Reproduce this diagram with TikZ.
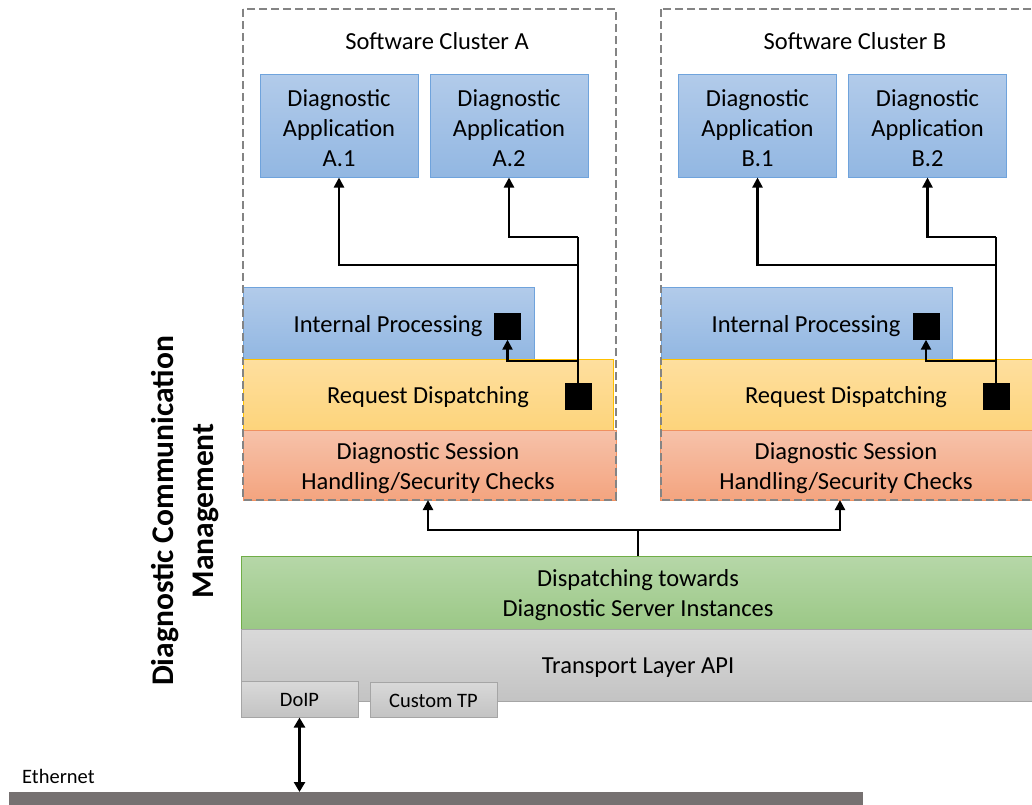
\documentclass[tikz,border=0pt]{standalone}
\usepackage{fontspec}
\setmainfont{Carlito}
\usetikzlibrary{arrows.meta,calc}
\definecolor{bluetop}{HTML}{B2CBEA}
\definecolor{bluebot}{HTML}{92B7E2}
\definecolor{blueline}{HTML}{6FA3DC}
\definecolor{yeltop}{HTML}{FEDF9F}
\definecolor{yelbot}{HTML}{FDD47B}
\definecolor{yelline}{HTML}{FFC000}
\definecolor{redtop}{HTML}{F6C2AA}
\definecolor{redbot}{HTML}{F4A47F}
\definecolor{redline}{HTML}{F09060}
\definecolor{grntop}{HTML}{B6D7A8}
\definecolor{grnbot}{HTML}{9BC886}
\definecolor{grnline}{HTML}{70AD47}
\definecolor{grytop}{HTML}{D9D9D9}
\definecolor{grybot}{HTML}{C3C3C3}
\definecolor{gryline}{HTML}{A5A5A5}
\definecolor{dashgray}{HTML}{848484}
\definecolor{ethgray}{HTML}{767171}
\tikzset{
  box/.style={rectangle, inner sep=0pt, line width=1pt},
  bluebox/.style={box, draw=blueline, top color=bluetop, bottom color=bluebot},
  yelbox/.style={box, draw=yelline, top color=yeltop, bottom color=yelbot},
  redbox/.style={box, draw=redline, top color=redtop, bottom color=redbot},
  grnbox/.style={box, draw=grnline, top color=grntop, bottom color=grnbot},
  grybox/.style={box, draw=gryline, top color=grytop, bottom color=grybot},
  sq/.style={rectangle, fill=black, draw=black, minimum size=26pt, inner sep=0pt},
  cluster/.style={draw=dashgray, dash pattern=on 8pt off 4pt, line width=2.5pt},
  conn/.style={line width=2.3pt},
  arr/.style={conn, -{Triangle[length=10pt,width=10pt]}},
  dblarr/.style={line width=2.8pt, {Triangle[length=10pt,width=11pt]}-{Triangle[length=10pt,width=11pt]}},
  lbl/.style={inner sep=0pt, align=center, font=\fontsize{24.5}{30}\selectfont},
  txt/.style={lbl, yshift=-3pt},
  small/.style={inner sep=0pt, font=\fontsize{20.5}{24}\selectfont}
}
\begin{document}
\begin{tikzpicture}[x=1pt,y=-1pt]
\useasboundingbox (0,0) rectangle (1032,804);
\clip (0,0) rectangle (1032,804);
% Cluster labels
\node[lbl] (labA) at (437,41) {Software Cluster A};
\node[lbl] (labB) at (855,41) {Software Cluster B};
% Applications
\node[bluebox, minimum width=158pt, minimum height=103pt] (a1) at (339,125.5) {};
\node[bluebox, minimum width=158pt, minimum height=103pt] (a2) at (509,125.5) {};
\node[bluebox, minimum width=158pt, minimum height=103pt] (b1) at (757.5,125.5) {};
\node[bluebox, minimum width=158pt, minimum height=103pt] (b2) at (927.5,125.5) {};
\node[txt] (a1t) at (a1) {Diagnostic\\Application\\A.1};
\node[txt] (a2t) at (a2) {Diagnostic\\Application\\A.2};
\node[txt] (b1t) at (b1) {Diagnostic\\Application\\B.1};
\node[txt] (b2t) at (b2) {Diagnostic\\Application\\B.2};
% Layers cluster A
\node[bluebox, minimum width=291pt, minimum height=72pt] (ipA) at (388.5,323) {};
\node[txt] (ipAt) at (388,323) {Internal Processing};
\node[yelbox, minimum width=370pt, minimum height=71pt] (rdA) at (428,394.5) {};
\node[txt] (rdAt) at (rdA) {Request Dispatching};
\node[redbox, minimum width=373pt, minimum height=70pt] (shA) at (429.5,465) {};
\node[txt] (shAt) at (428,465) {Diagnostic Session\\Handling/Security Checks};
% Layers cluster B
\node[bluebox, minimum width=291pt, minimum height=72pt] (ipB) at (806.5,323) {};
\node[txt] (ipBt) at (806,323) {Internal Processing};
\node[yelbox, minimum width=372pt, minimum height=71pt] (rdB) at (846,394.5) {};
\node[txt] (rdBt) at (rdB) {Request Dispatching};
\node[redbox, minimum width=372pt, minimum height=70pt] (shB) at (846,465) {};
\node[txt] (shBt) at (shB) {Diagnostic Session\\Handling/Security Checks};
% squares
\node[sq] (sqIA) at (507.5,326.5) {};
\node[sq] (sqRA) at (578,396) {};
\node[sq] (sqIB) at (926,326.5) {};
\node[sq] (sqRB) at (996,396) {};
% cluster frames
\draw[cluster] (243,9) rectangle (616,500);
\draw[cluster] (661,9) rectangle (1045,500);
% connectors cluster A
\coordinate (tA2) at (578,237);
\coordinate (tA1) at (578,265);
\coordinate (tAI) at (578,361);
\draw[conn] (sqRA.north) -- (tA2);
\draw[arr] (tA2) -| (a2.south);
\draw[arr] (tA1) -| (a1.south);
\draw[arr] (tAI) -| (sqIA.south);
% connectors cluster B
\coordinate (tB2) at (996,237);
\coordinate (tB1) at (996,265);
\coordinate (tBI) at (996,361);
\draw[conn] (sqRB.north) -- (tB2);
\draw[arr] (tB2) -| (b2.south);
\draw[arr] (tB1) -| (b1.south);
\draw[arr] (tBI) -| (sqIB.south);
% lower layers
\node[grnbox, minimum width=795pt, minimum height=73pt] (disp) at (638.5,592.5) {};
\node[txt] (dispt) at (638,592.5) {Dispatching towards\\Diagnostic Server Instances};
\node[grybox, minimum width=795pt, minimum height=72pt] (tl) at (638.5,665) {};
\node[txt] (tlt) at (638,665) {Transport Layer API};
\node[grybox, minimum width=117pt, minimum height=36pt] (doip) at (299.5,699) {};
\node[small] (doipt) at ($(doip)+(0,1)$) {DoIP};
\node[grybox, minimum width=127pt, minimum height=35pt] (ctp) at (433.5,699.5) {};
\node[small] (ctpt) at ($(ctp)+(0,1)$) {Custom TP};
% dispatch connectors
\coordinate (dj) at (638,530);
\coordinate (sA) at (428,500);
\coordinate (sB) at (840,500);
\draw[conn] (disp.north -| dj) -- (dj);
\draw[arr] (dj) -| (sA);
\draw[arr] (dj) -| (sB);
% Ethernet
\node[rectangle, fill=ethgray, minimum width=854pt, minimum height=14pt, inner sep=0pt, anchor=north west] (eth) at (9,792) {};
\node[small, anchor=west] (etht) at (22,776) {Ethernet};
\draw[dblarr] (doip.south) -- (doip.south |- eth.north);
% vertical title
\node[rotate=90, align=center, inner sep=0pt, font=\fontsize{31.5}{40}\bfseries\selectfont] (dcm) at (185,511) {Diagnostic Communication\\Management};
\end{tikzpicture}
\end{document}
